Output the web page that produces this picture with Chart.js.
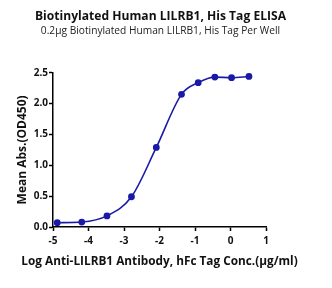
<!DOCTYPE html>
<html>
<head>
<meta charset="utf-8">
<script src="https://cdn.jsdelivr.net/npm/chart.js@4.4.1/dist/chart.umd.min.js"></script>
<style>
  html, body { margin: 0; padding: 0; background: #fff; }
  #wrap { width: 332px; height: 288px; }
</style>
</head>
<body>
<div id="wrap"><canvas id="elisa"></canvas></div>
<script>
// Data
const logConc = [-4.88, -4.19, -3.48, -2.79, -2.09, -1.38, -0.91, -0.44, 0.03, 0.52];
const meanAbs = [0.07, 0.08, 0.18, 0.49, 1.29, 2.15, 2.34, 2.43, 2.42, 2.44];
const xTicks = [-5, -4, -3, -2, -1, 0, 1];
const yTicks = [0, 0.5, 1.0, 1.5, 2.0, 2.5];

const xTitle = 'Log Anti-LILRB1 Antibody, hFc Tag Conc.(\u00b5g/ml)';

const blue = '#1a1aa8';
const font = '"Open Sans", Lato, sans-serif';

const points = logConc.map((x, i) => ({ x: x, y: meanAbs[i] }));

// x title is wider than the plot area, so the scale title would squeeze it
const xTitlePlugin = {
    id: 'xTitle',
    afterDraw(chart) {
        const ctx = chart.ctx;
        const area = chart.chartArea;
        ctx.save();
        ctx.font = 'bold 11.8px ' + font;
        ctx.fillStyle = '#111';
        ctx.textAlign = 'center';
        ctx.textBaseline = 'middle';
        ctx.fillText(xTitle, (area.left + area.right) / 2, area.bottom + 35);
        ctx.restore();
    }
};

new Chart(document.getElementById('elisa'), {
    type: 'line',
    data: {
        datasets: [{
            data: points,
            borderColor: blue,
            backgroundColor: blue,
            borderWidth: 1.6,
            cubicInterpolationMode: 'monotone',
            pointRadius: 2.6,
            pointHoverRadius: 3,
            fill: false
        }]
    },
    plugins: [xTitlePlugin],
    options: {
        responsive: true,
        maintainAspectRatio: false,
        animation: false,
        layout: { padding: { left: 0, right: 11, top: 0, bottom: 0 } },
        plugins: {
            legend: { display: false },
            tooltip: { enabled: false },
            title: {
                display: true,
                text: 'Biotinylated Human LILRB1, His Tag ELISA',
                color: '#111',
                font: { family: font, size: 12.1, weight: 'bold', lineHeight: 1.2 },
                padding: { top: 9, bottom: 1 }
            },
            subtitle: {
                display: true,
                text: '0.2\u00b5g Biotinylated Human LILRB1, His Tag Per Well',
                color: '#222',
                font: { family: font, size: 10.2, lineHeight: 1.2 },
                padding: { top: 0, bottom: 36 }
            }
        },
        scales: {
            x: {
                type: 'linear',
                min: -5,
                max: 1,
                afterBuildTicks: axis => { axis.ticks = xTicks.map(v => ({ value: v })); },
                afterFit: axis => { axis.height = 61; },
                border: { color: '#000', width: 1.5 },
                grid: { drawOnChartArea: false, color: '#000', tickLength: 4, tickWidth: 1.5 },
                ticks: {
                    color: '#111',
                    padding: 4,
                    font: { family: font, size: 10, weight: 'bold' },
                    callback: v => String(v)
                }
            },
            y: {
                type: 'linear',
                min: 0,
                max: 2.5,
                afterBuildTicks: axis => { axis.ticks = yTicks.map(v => ({ value: v })); },
                afterFit: axis => { axis.width = 53; },
                border: { color: '#000', width: 1.5 },
                grid: { drawOnChartArea: false, color: '#000', tickLength: 4, tickWidth: 1.5 },
                ticks: {
                    color: '#111',
                    padding: 1,
                    font: { family: font, size: 10, weight: 'bold' },
                    callback: v => v.toFixed(1)
                },
                title: {
                    display: true,
                    text: 'Mean Abs.(OD450)',
                    color: '#111',
                    font: { family: font, size: 12, weight: 'bold', lineHeight: 1.2 },
                    padding: { top: 15, bottom: 0 }
                }
            },
            // empty right-hand box so the plot area keeps its reference width
            spacer: {
                type: 'linear',
                position: 'right',
                display: true,
                afterFit: axis => { axis.width = 55; },
                border: { display: false },
                grid: { display: false },
                ticks: { display: false }
            }
        }
    }
});
</script>
</body>
</html>
